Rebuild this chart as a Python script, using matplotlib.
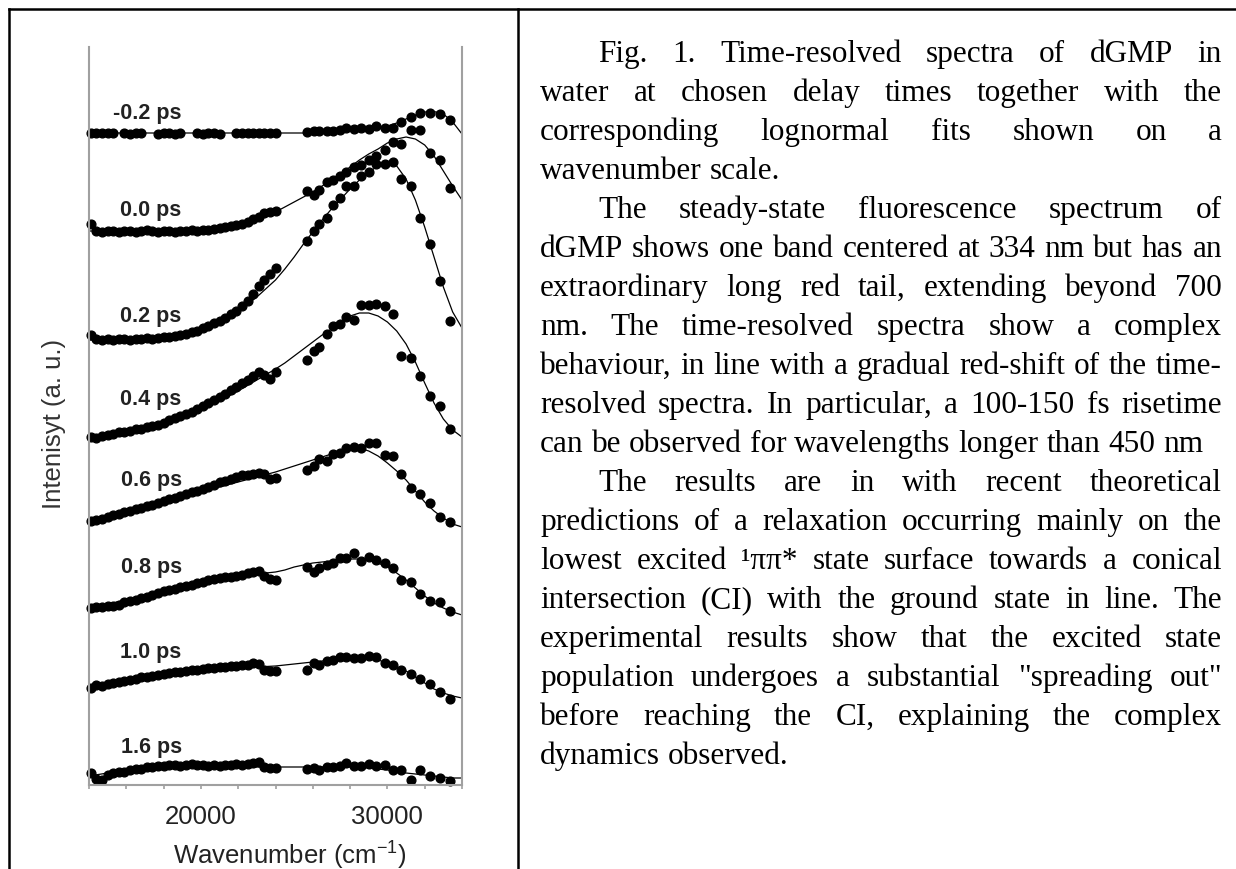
import numpy as np
import matplotlib.pyplot as plt
from matplotlib.lines import Line2D

plt.rcParams['font.family'] = ['Liberation Sans', 'DejaVu Sans']
plt.rcParams['mathtext.fontset'] = 'custom'
plt.rcParams['mathtext.rm'] = 'Liberation Sans'
plt.rcParams['mathtext.it'] = 'Liberation Sans:italic'

nan = np.nan

delays = ['-0.2 ps', '0.0 ps', '0.2 ps', '0.4 ps', '0.6 ps', '0.8 ps', '1.0 ps', '1.6 ps']
label_y = [66.7, 57.0, 46.4, 38.1, 30.0, 21.3, 12.8, 3.3]

# measured points: dense red part + sparse blue part of the spectrum
low_x = [14100, 14400, 14700, 15000, 15300, 15600, 15900, 16200, 16500, 16800,
         17100, 17400, 17700, 18000, 18300, 18600, 18900, 19200, 19500, 19800,
         20100, 20400, 20700, 21000, 21300, 21600, 21900, 22200, 22500, 22800,
         23100, 23400, 23700, 24000]
high_x = [25700, 26050, 26350, 26750, 27100, 27450, 27800, 28200, 28600, 29000,
          29400, 29850, 30300, 30750, 31250, 31750, 32300, 32800, 33350]

data_m02 = [65.2, 65.25, 65.2, 65.2, 65.2, nan, 65.2, 65.15, 65.2, 65.2,
            nan, nan, 65.15, 65.2, 65.2, 65.15, 65.2, nan, nan, 65.2,
            65.15, 65.2, 65.2, 65.15, nan, nan, 65.2, 65.25, 65.2, 65.2,
            65.25, 65.2, 65.2, 65.25,
            65.3, 65.4, 65.4, 65.4, 65.4, 65.5, 65.7, 65.6, 65.7, 65.6,
            65.9, 65.7, 65.7, 66.3, 66.8, 67.2, 67.2, 67.1, 66.5]
data_p00 = [56.1, 55.4, 55.3, 55.4, 55.4, 55.3, 55.4, 55.4, 55.3, 55.4,
            55.5, 55.4, 55.3, 55.4, 55.4, 55.3, 55.4, 55.4, 55.5, 55.4,
            55.5, 55.5, 55.6, 55.7, 55.8, 55.9, 56.0, 56.1, 56.3, 56.6,
            56.8, 57.2, 57.3, 57.4,
            59.4, 59.0, 59.5, 60.3, 60.5, 60.9, 61.3, 61.8, 62.0, 62.5,
            62.9, 63.5, 64.3, 64.1, 65.5, 65.5, 63.2, 62.5, 59.7]
data_p02 = [45.0, 44.6, 44.5, 44.6, 44.5, 44.6, 44.6, 44.5, 44.6, 44.6,
            44.7, 44.6, 44.7, 44.8, 44.8, 44.9, 45.0, 45.1, 45.3, 45.4,
            45.7, 45.9, 46.2, 46.4, 46.7, 47.1, 47.4, 47.9, 48.4, 49.1,
            49.9, 50.5, 51.1, 51.7,
            54.4, 55.4, 56.1, 56.7, 58.0, 58.7, 59.9, 59.9, 60.9, 61.3,
            62.1, 62.1, 62.3, 60.6, 59.9, 56.7, 54.1, 50.4, 46.4]
data_p04 = [34.8, 34.7, 34.9, 35.0, 35.1, 35.3, 35.3, 35.4, 35.6, 35.6,
            35.8, 35.9, 36.0, 36.2, 36.5, 36.7, 36.9, 37.1, 37.3, 37.6,
            37.9, 38.2, 38.5, 38.8, 39.1, 39.5, 39.8, 40.2, 40.5, 40.9,
            41.3, 41.0, 40.6, 41.3,
            42.5, 43.4, 43.8, 45.1, 45.9, 46.1, 46.8, 46.5, 48.0, 48.0,
            48.1, 47.9, 47.1, 42.9, 42.7, 40.9, 38.9, 37.9, 35.6]
data_p06 = [26.4, 26.5, 26.6, 26.8, 27.0, 27.1, 27.3, 27.4, 27.6, 27.7,
            27.9, 28.0, 28.2, 28.4, 28.6, 28.7, 28.9, 29.1, 29.3, 29.4,
            29.6, 29.8, 30.0, 30.3, 30.4, 30.6, 30.8, 31.0, 31.0, 31.1,
            31.2, 31.1, 30.6, 30.7,
            31.5, 31.9, 32.6, 32.4, 33.1, 33.2, 33.7, 33.8, 33.7, 34.2,
            34.2, 33.0, 32.9, 31.1, 29.7, 29.1, 28.2, 26.8, 26.3]
data_p08 = [17.7, 17.8, 17.8, 17.9, 17.9, 18.0, 18.3, 18.4, 18.5, 18.7,
            18.8, 19.0, 19.2, 19.4, 19.5, 19.6, 19.8, 19.9, 20.0, 20.2,
            20.3, 20.5, 20.6, 20.7, 20.8, 20.8, 20.9, 21.0, 21.2, 21.3,
            21.4, 20.9, 20.6, 20.5,
            21.8, 21.3, 21.7, 22.0, 22.2, 22.7, 22.7, 23.2, 22.4, 22.8,
            22.5, 22.2, 21.7, 20.5, 20.3, 19.1, 18.4, 18.3, 17.4]
data_p10 = [9.7, 10.0, 9.9, 10.1, 10.2, 10.3, 10.4, 10.5, 10.6, 10.8,
            10.8, 10.9, 11.0, 11.1, 11.2, 11.3, 11.3, 11.4, 11.5, 11.5,
            11.6, 11.7, 11.7, 11.8, 11.8, 11.9, 11.9, 12.0, 12.0, 12.2,
            12.1, 11.5, 11.4, 11.4,
            11.5, 12.2, 12.0, 12.4, 12.5, 12.8, 12.8, 12.7, 12.7, 12.9,
            12.8, 12.2, 12.0, 11.5, 11.1, 10.6, 10.1, 9.3, 8.6]
data_p16 = [1.2, 0.6, 0.5, 1.0, 1.2, 1.3, 1.3, 1.5, 1.6, 1.6,
            1.8, 1.8, 1.9, 1.9, 2.0, 2.0, 1.9, 2.0, 2.1, 2.0,
            2.0, 1.9, 2.0, 1.9, 2.0, 2.0, 2.1, 2.0, 2.1, 2.2,
            2.3, 1.8, 1.7, 1.7,
            1.6, 1.7, 1.5, 1.8, 1.8, 1.9, 2.2, 1.9, 1.9, 2.1,
            1.9, 2.0, 1.5, 1.5, 0.5, 1.5, 0.9, 0.7, 0.4]

# lognormal fit curves
fit_x = [14000, 15000, 16000, 17000, 18000, 19000, 20000, 21000, 22000, 23000,
         24000, 24500, 25000, 25500, 26000, 26500, 27000, 27500, 28000, 28500,
         29000, 29500, 30000, 30500, 31000, 31500, 32000, 32500, 33000, 33500, 34000]
fit_m02 = [65.2, 65.2, 65.2, 65.2, 65.2, 65.2, 65.2, 65.2, 65.2, 65.2,
           65.2, 65.2, 65.2, 65.2, 65.2, 65.25, 65.3, 65.35, 65.4, 65.5,
           65.6, 65.7, 65.9, 66.2, 66.6, 67.0, 67.3, 67.35, 67.1, 66.3, 65.1]
fit_p00 = [55.4, 55.4, 55.4, 55.4, 55.4, 55.5, 55.6, 55.8, 56.1, 56.6,
           57.3, 57.8, 58.3, 58.8, 59.3, 59.9, 60.5, 61.1, 61.8, 62.5,
           63.1, 63.6, 64.2, 64.6, 64.8, 64.6, 64.0, 62.9, 61.4, 59.9, 58.5]
fit_p02 = [44.5, 44.5, 44.5, 44.6, 44.7, 45.0, 45.5, 46.3, 47.4, 48.8,
           50.5, 51.6, 52.8, 54.1, 55.3, 56.5, 57.6, 58.6, 59.6, 60.5,
           61.3, 61.9, 62.2, 61.9, 60.6, 58.5, 55.8, 52.8, 49.8, 47.3, 45.7]
fit_p04 = [34.8, 35.0, 35.3, 35.7, 36.2, 36.8, 37.5, 38.4, 39.4, 40.5,
           41.6, 42.2, 42.9, 43.6, 44.3, 45.0, 45.6, 46.3, 46.9, 47.2,
           47.2, 46.9, 46.3, 45.4, 44.1, 42.3, 40.2, 38.2, 36.6, 35.5, 34.8]
fit_p06 = [26.3, 26.8, 27.3, 27.8, 28.3, 28.8, 29.3, 29.8, 30.3, 30.8,
           31.3, 31.6, 31.9, 32.2, 32.5, 32.8, 33.1, 33.4, 33.6, 33.7,
           33.4, 32.9, 32.2, 31.4, 30.5, 29.4, 28.3, 27.4, 26.7, 26.1, 25.8]
fit_p08 = [17.7, 18.1, 18.5, 18.9, 19.3, 19.7, 20.1, 20.4, 20.8, 21.1,
           21.3, 21.5, 21.8, 22.0, 22.2, 22.3, 22.4, 22.5, 22.6, 22.6,
           22.5, 22.2, 21.8, 21.2, 20.5, 19.7, 18.9, 18.2, 17.7, 17.3, 17.0]
fit_p10 = [9.9, 10.2, 10.5, 10.8, 11.0, 11.2, 11.4, 11.6, 11.7, 11.8,
           11.9, 12.0, 12.1, 12.2, 12.3, 12.4, 12.5, 12.6, 12.7, 12.8,
           12.7, 12.5, 12.2, 11.8, 11.4, 10.8, 10.2, 9.6, 9.2, 8.9, 8.7]
fit_p16 = [0.9, 1.2, 1.4, 1.6, 1.7, 1.8, 1.8, 1.8, 1.8, 1.8,
           1.8, 1.8, 1.8, 1.8, 1.8, 1.8, 1.8, 1.8, 1.8, 1.8,
           1.7, 1.6, 1.5, 1.4, 1.2, 1.1, 1.0, 0.9, 0.8, 0.7, 0.7]

spectra = [data_m02, data_p00, data_p02, data_p04, data_p06, data_p08, data_p10, data_p16]
fits = [fit_m02, fit_p00, fit_p02, fit_p04, fit_p06, fit_p08, fit_p10, fit_p16]

xticks = [14000, 16000, 18000, 20000, 22000, 24000, 26000, 28000, 30000, 32000, 34000]
xtick_labels = ['', '', '', '20000', '', '', '', '', '30000', '', '']

paragraphs = [
    ['Fig. 1. Time-resolved spectra of dGMP in',
     'water at chosen delay times together with the',
     'corresponding lognormal fits shown on a',
     'wavenumber scale.'],
    ['The steady-state fluorescence spectrum of',
     'dGMP shows one band centered at 334 nm but has an',
     'extraordinary long red tail, extending beyond 700',
     'nm. The time-resolved spectra show a complex',
     'behaviour, in line with a gradual red-shift of the time-',
     'resolved spectra. In particular, a 100-150 fs risetime',
     'can be observed for wavelengths longer than 450 nm'],
    ['The results are in with recent theoretical',
     'predictions of a relaxation occurring mainly on the',
     'lowest excited \u00b9\u03c0\u03c0* state surface towards a conical',
     'intersection (CI) with the ground state in line. The',
     'experimental results show that the excited state',
     'population undergoes a substantial "spreading out"',
     'before reaching the CI, explaining the complex',
     'dynamics observed.'],
]

W, H = 1236, 870
fig = plt.figure(figsize=(W / 100, H / 100), dpi=100)

# table frame around figure and caption
frame_kw = dict(color='black', lw=1.8, transform=fig.transFigure)
fig.add_artist(Line2D([9 / W, 1], [1 - 10 / H, 1 - 10 / H], **frame_kw))
fig.add_artist(Line2D([9 / W, 9 / W], [0, 1 - 10 / H], **frame_kw))
fig.add_artist(Line2D([518 / W, 518 / W], [0, 1 - 10 / H], **frame_kw))

ax = fig.add_axes([89 / W, 1 - 786 / H, 373 / W, 738 / H])
scatter_x = low_x + high_x
for fit, spec in zip(fits, spectra):
    ax.plot(fit_x, fit, color='black', lw=0.9)
    ax.plot(scatter_x, spec, 'o', ms=6.3, color='black', mec='black', clip_on=False)

for lab, y in zip(delays, label_y):
    ax.text(18970, y, lab, ha='right', va='baseline', fontsize=15.5,
            fontweight='bold', color='#222222')

ax.set_xlim(14000, 34000)
ax.set_ylim(0, 73.8)
ax.set_yticks([])
ax.set_xticks(xticks)
ax.set_xticklabels(xtick_labels)
ax.tick_params(axis='x', direction='out', length=3, width=1.2, color='#a0a0a0',
               labelsize=18.5, labelcolor='#222222', pad=11)
ax.spines['top'].set_visible(False)
for side in ['left', 'right', 'bottom']:
    ax.spines[side].set_color('#a0a0a0')
    ax.spines[side].set_linewidth(1.5)

ax.set_xlabel('Wavenumber (cm$^{-1}$)', fontsize=18.5, color='#222222')
ax.xaxis.set_label_coords(0.539, -0.073)
ax.set_ylabel('Intenisyt (a. u.)', fontsize=18.5, color='#333333')
ax.yaxis.set_label_coords(-0.062, 0.49)

# justified caption text on the right
renderer = fig.canvas.get_renderer()
left, right, indent = 540, 1222, 598
base0, step = 62, 39
text_kw = dict(fontsize=22.5, family=['Liberation Serif', 'DejaVu Serif'], color='black')
probe_a = fig.text(0, 0, 'a', **text_kw)
probe_aa = fig.text(0, 0, 'a a', **text_kw)
space = probe_aa.get_window_extent(renderer).width - 2 * probe_a.get_window_extent(renderer).width
probe_a.remove()
probe_aa.remove()

row = 0
for para in paragraphs:
    for k, line in enumerate(para):
        x0 = indent if k == 0 else left
        y = 1 - (base0 + row * step) / H
        words = line.split(' ')
        items = [fig.text(0, y, w, va='baseline', **text_kw) for w in words]
        widths = [t.get_window_extent(renderer).width for t in items]
        if k == len(para) - 1:
            gap = space
        else:
            gap = (right - x0 - sum(widths)) / (len(words) - 1)
        x = x0
        for t, w in zip(items, widths):
            t.set_x(x / W)
            x += w + gap
        row += 1

fig.savefig('out.png', dpi=100)
